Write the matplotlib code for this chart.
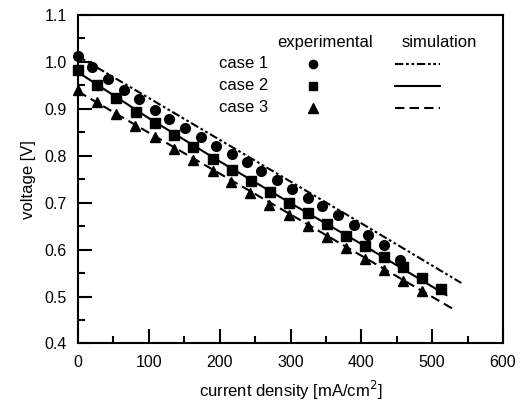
import matplotlib
matplotlib.use("Agg")
import matplotlib.pyplot as plt
from matplotlib.ticker import MultipleLocator

plt.rcParams['font.family'] = ['Liberation Sans', 'DejaVu Sans']

# experimental data
exp1_x = [0, 20, 43, 65, 86, 108, 129, 151, 173, 195, 217, 238, 259, 281, 302,
          324, 345, 367, 389, 410, 432, 454]
exp1_v = [1.013, 0.990, 0.964, 0.941, 0.920, 0.898, 0.879, 0.860, 0.839, 0.821,
          0.804, 0.786, 0.767, 0.748, 0.729, 0.711, 0.692, 0.673, 0.652, 0.632,
          0.609, 0.577]

exp2_x = [0, 27, 54, 82, 109, 136, 163, 190, 217, 244, 271, 298, 325, 351, 378,
          405, 432, 459, 486, 513]
exp2_v = [0.982, 0.951, 0.923, 0.894, 0.870, 0.844, 0.819, 0.794, 0.770, 0.746,
          0.722, 0.700, 0.677, 0.654, 0.630, 0.607, 0.585, 0.563, 0.540, 0.517]

exp3_x = [0, 27, 54, 81, 108, 136, 163, 190, 216, 243, 269, 298, 325, 351, 379,
          405, 432, 459, 486]
exp3_v = [0.941, 0.914, 0.889, 0.864, 0.839, 0.814, 0.791, 0.768, 0.744, 0.720,
          0.696, 0.673, 0.650, 0.627, 0.604, 0.580, 0.556, 0.534, 0.511]

# simulation curves
sim1_x = [0, 100, 200, 300, 400, 541]
sim1_v = [1.012, 0.923, 0.834, 0.745, 0.656, 0.529]
sim2_x = [0, 100, 200, 300, 400, 520]
sim2_v = [0.978, 0.880, 0.788, 0.699, 0.612, 0.503]
sim3_x = [0, 100, 200, 300, 400, 530]
sim3_v = [0.937, 0.849, 0.762, 0.675, 0.587, 0.473]

cases = ['case 1', 'case 2', 'case 3']
markers = ['o', 's', '^']
msizes = [7, 6.5, 7.5]
styles = [(0, (4, 1.3, 1.3, 1.3, 1.3, 1.3)), '-', (0, (4.5, 2.5))]

fig = plt.figure(figsize=(5.25, 4.05), dpi=100)
ax = fig.add_axes([0.1486, 0.152, 0.8095, 0.811])

exps = [(exp1_x, exp1_v), (exp2_x, exp2_v), (exp3_x, exp3_v)]
sims = [(sim1_x, sim1_v), (sim2_x, sim2_v), (sim3_x, sim3_v)]

for (sx, sv), ls in zip(sims, styles):
    ax.plot(sx, sv, color='black', linestyle=ls, linewidth=1.5)
for (ex, ev), m, ms in zip(exps, markers, msizes):
    ax.plot(ex, ev, linestyle='none', marker=m, markersize=ms, color='black',
            clip_on=False, zorder=3)

ax.set_xlim(0, 600)
ax.set_ylim(0.4, 1.1)
ax.xaxis.set_major_locator(MultipleLocator(100))
ax.xaxis.set_minor_locator(MultipleLocator(50))
ax.yaxis.set_major_locator(MultipleLocator(0.1))
ax.yaxis.set_minor_locator(MultipleLocator(0.05))
ax.tick_params(which='major', direction='in', length=10, width=1.5,
               labelsize=11.5, pad=8, top=False, right=False)
ax.tick_params(which='minor', direction='in', length=5, width=1.5,
               top=False, right=False)
for s in ax.spines.values():
    s.set_linewidth(1.5)

ax.set_xlabel('current density [mA/cm$^2$]', fontsize=12, labelpad=7)
ax.set_ylabel('voltage [V]', fontsize=12, labelpad=6)

# hand made legend
tr = ax.transAxes
ax.text(0.581, 0.915, 'experimental', transform=tr, fontsize=12, ha='center', va='center')
ax.text(0.849, 0.915, 'simulation', transform=tr, fontsize=12, ha='center', va='center')
ys = [0.851, 0.784, 0.718]
for i, c in enumerate(cases):
    ax.text(0.447, ys[i], c, transform=tr, fontsize=12, ha='right', va='center')
    ax.plot([0.553], [ys[i]], transform=tr, marker=markers[i], markersize=msizes[i] - 1,
            color='black', linestyle='none')
    ax.plot([0.746, 0.852], [ys[i], ys[i]], transform=tr, color='black',
            linestyle=styles[i], linewidth=1.5)

fig.savefig('out.png', dpi=100)
